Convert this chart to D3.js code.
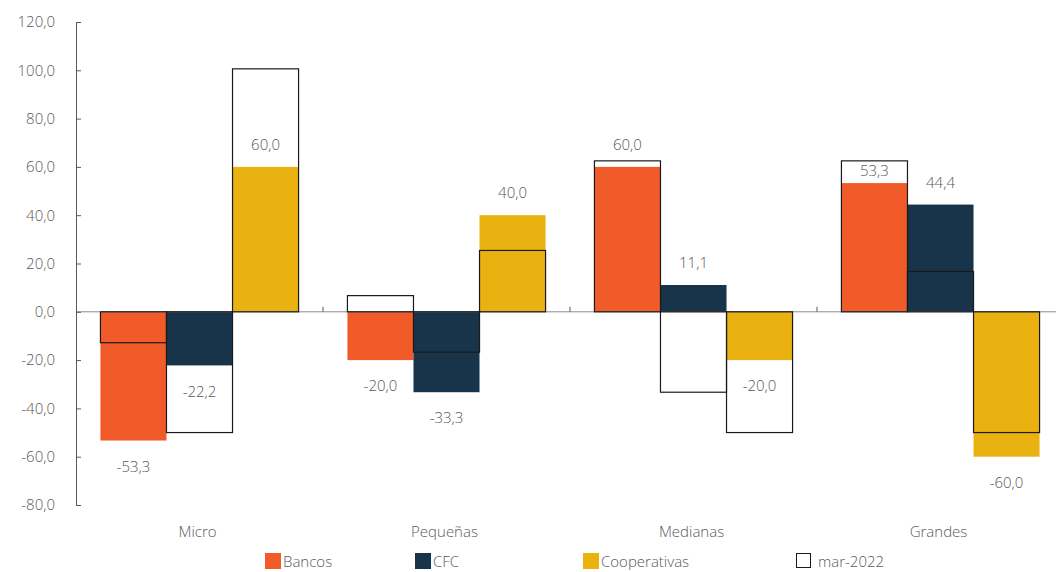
<!DOCTYPE html>
<meta charset="utf-8">
<script src="https://d3js.org/d3.v7.min.js"></script>
<style>
  body { margin: 0; background: #fff; }
  text { font-family: "Open Sans", sans-serif; font-weight: 300; fill: #595959; }
</style>
<div id="chart"></div>
<script>
  // categories and series
  const categories = ["Micro", "Pequeñas", "Medianas", "Grandes"];
  const seriesNames = ["Bancos", "CFC", "Cooperativas"];
  const bancos = [-53.3, -20.0, 60.0, 53.3];
  const cfc = [-22.2, -33.3, 11.1, 44.4];
  const cooperativas = [60.0, 40.0, -20.0, -60.0];
  // mar-2022 outlines, in the same order: Bancos, CFC, Cooperativas
  const mar2022 = [
    [-12.8, -50.0, 100.6],
    [6.7, -16.7, 25.4],
    [62.5, -33.3, -50.0],
    [62.5, 16.7, -50.0]
  ];
  const yTicks = [-80, -60, -40, -20, 0, 20, 40, 60, 80, 100, 120];
  const colors = ["#F15A29", "#17344A", "#EAB210"];

  const W = 1056, H = 572;
  const plotLeft = 76, plotRight = 1064, plotTop = 22, plotBottom = 505;

  const svg = d3.select("#chart").append("svg")
    .attr("width", W).attr("height", H);

  const es = d3.formatLocale({decimal: ",", thousands: ".", grouping: [3], currency: ["", ""], minus: "-"});
  const fmt = es.format(".1f");

  const y = d3.scaleLinear().domain([-80, 120]).range([plotBottom, plotTop]);
  const x0 = d3.scaleBand().domain(categories).range([plotLeft, plotRight]).padding(0);
  const x1 = d3.scaleBand().domain(seriesNames).range([0, x0.bandwidth()])
    .paddingInner(0).paddingOuter(0.37);

  const values = [bancos, cfc, cooperativas];
  const bars = [];
  categories.forEach((c, i) => {
    seriesNames.forEach((s, j) => {
      bars.push({cat: c, series: s, j: j, value: values[j][i], prev: mar2022[i][j]});
    });
  });

  // filled bars
  svg.append("g").selectAll("rect")
    .data(bars).join("rect")
    .attr("x", d => x0(d.cat) + x1(d.series))
    .attr("y", d => y(Math.max(0, d.value)))
    .attr("width", x1.bandwidth())
    .attr("height", d => Math.abs(y(d.value) - y(0)))
    .attr("fill", d => colors[d.j]);

  // x axis along zero
  svg.append("line")
    .attr("x1", plotLeft).attr("x2", W)
    .attr("y1", y(0)).attr("y2", y(0))
    .attr("stroke", "#8c8c8c").attr("stroke-width", 1);
  svg.append("g").selectAll("line")
    .data(categories.slice(1)).join("line")
    .attr("x1", d => x0(d)).attr("x2", d => x0(d))
    .attr("y1", y(0)).attr("y2", y(0) - 5)
    .attr("stroke", "#595959");

  // mar-2022 outlines
  svg.append("g").selectAll("rect")
    .data(bars).join("rect")
    .attr("x", d => x0(d.cat) + x1(d.series))
    .attr("y", d => y(Math.max(0, d.prev)))
    .attr("width", x1.bandwidth())
    .attr("height", d => Math.abs(y(d.prev) - y(0)))
    .attr("fill", "none")
    .attr("stroke", "#1a1a1a")
    .attr("stroke-width", 1.2);

  // data labels (the Grandes/Bancos one sits tucked inside its outline box)
  function labelY(d) {
    if (d.value >= 0) {
      const gap = (d.prev > d.value && y(d.value) - y(d.prev) < 30 && y(d.value) - y(d.prev) > 10) ? 12 : 22;
      return y(d.value) - gap;
    }
    return y(d.value) + 26;
  }
  svg.append("g").selectAll("text")
    .data(bars).join("text")
    .attr("x", d => x0(d.cat) + x1(d.series) + x1.bandwidth() / 2)
    .attr("y", labelY)
    .attr("dy", "0.35em")
    .attr("text-anchor", "middle")
    .style("font-size", "15px")
    .text(d => fmt(d.value));

  // y axis
  const yAxis = svg.append("g")
    .attr("transform", `translate(${plotLeft},0)`)
    .call(d3.axisLeft(y).tickValues(yTicks).tickFormat(fmt)
      .tickSizeInner(-5).tickSizeOuter(-5).tickPadding(21));
  yAxis.select(".domain").attr("stroke", "#595959");
  yAxis.selectAll(".tick line").attr("stroke", "#595959");
  yAxis.selectAll(".tick text")
    .style("font-size", "15px").style("font-family", "Open Sans, sans-serif")
    .style("font-weight", 300).attr("fill", "#595959");

  // category labels
  svg.append("g").selectAll("text")
    .data(categories).join("text")
    .attr("x", d => x0(d) + x0.bandwidth() / 2 - 2)
    .attr("y", 537)
    .attr("text-anchor", "middle")
    .style("font-size", "15px")
    .text(d => d);

  // legend
  const legendItems = [
    {name: "Bancos", fill: colors[0], x: 265},
    {name: "CFC", fill: colors[1], x: 415},
    {name: "Cooperativas", fill: colors[2], x: 583},
    {name: "mar-2022", fill: "none", x: 796}
  ];
  const lg = svg.append("g").selectAll("g")
    .data(legendItems).join("g")
    .attr("transform", d => `translate(${d.x},553)`);
  lg.append("rect")
    .attr("width", d => d.fill === "none" ? 14 : 16)
    .attr("height", d => d.fill === "none" ? 14 : 16)
    .attr("x", d => d.fill === "none" ? 0.5 : 0)
    .attr("y", d => d.fill === "none" ? 0.5 : 0)
    .attr("fill", d => d.fill === "none" ? "#fff" : d.fill)
    .attr("stroke", d => d.fill === "none" ? "#1a1a1a" : "none");
  lg.append("text")
    .attr("x", d => d.fill === "none" ? 22 : 18)
    .attr("y", 14)
    .style("font-size", "15px")
    .text(d => d.name);
</script>
</html>
